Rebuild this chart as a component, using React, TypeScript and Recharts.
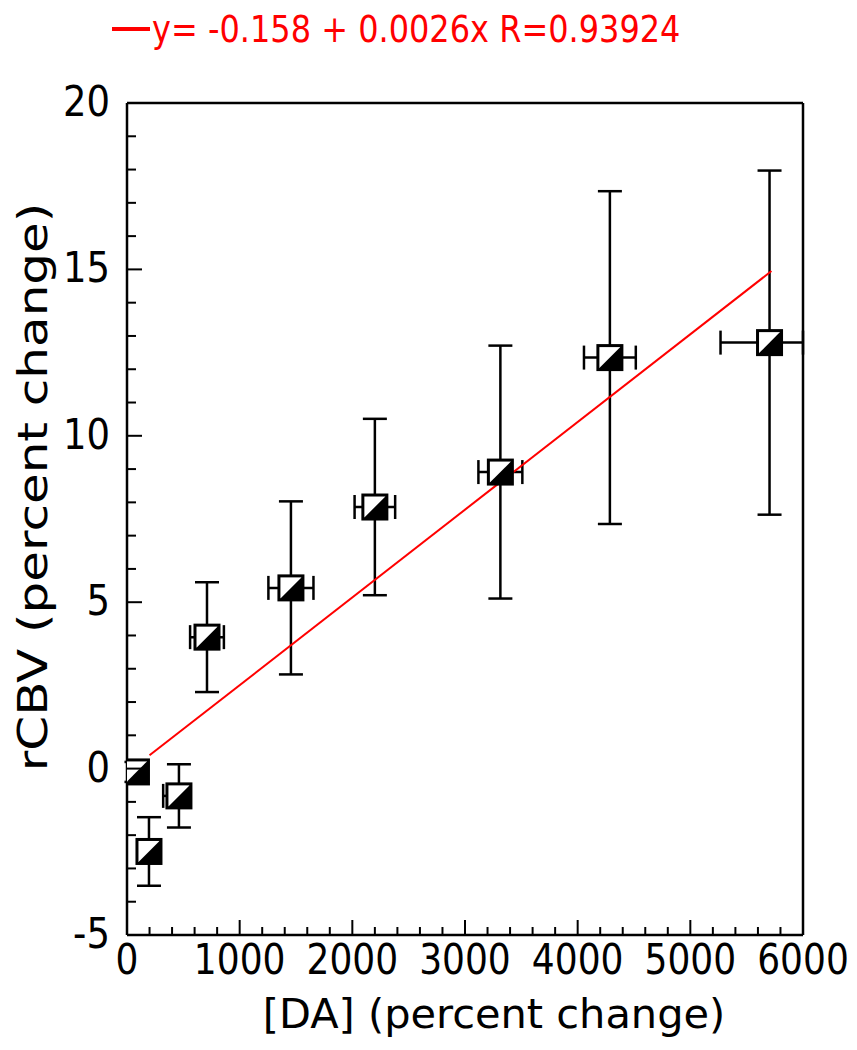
import React from "react";
import {
  ScatterChart,
  Scatter,
  XAxis,
  YAxis,
  ErrorBar,
  ReferenceLine,
} from "recharts";

// ---- data ----
const daChange = [84, 195, 461, 710, 1455, 2200, 3314, 4286, 5703];
const rcbvChange = [-0.1, -2.49, -0.82, 3.95, 5.43, 7.86, 8.91, 12.35, 12.8];
const rcbvErr = [0.3, 1.03, 0.95, 1.65, 2.6, 2.65, 3.8, 5.0, 5.17];
const daErrLow = [40, 80, 140, 150, 200, 180, 195, 230, 435];
const daErrHigh = [40, 80, 95, 150, 200, 180, 195, 230, 297];

const fitX = [200, 5720];
const fitY = [0.40, 14.95];

const xTickValues = [
  0, 200, 400, 600, 800, 1000, 1200, 1400, 1600, 1800, 2000, 2200, 2400, 2600,
  2800, 3000, 3200, 3400, 3600, 3800, 4000, 4200, 4400, 4600, 4800, 5000, 5200,
  5400, 5600, 5800, 6000,
];
const xMajorTicks = [0, 1000, 2000, 3000, 4000, 5000, 6000];
const yTickValues = [
  -5, -4, -3, -2, -1, 0, 1, 2, 3, 4, 5, 6, 7, 8, 9, 10, 11, 12, 13, 14, 15, 16,
  17, 18, 19, 20,
];
const yMajorTicks = [-5, 0, 5, 10, 15, 20];

const legendText = "y= -0.158 + 0.0026x R=0.93924";
const xLabel = "[DA] (percent change)";
const yLabel = "rCBV (percent change)";

const points = daChange.map((x, i) => ({
  x,
  y: rcbvChange[i],
  ey: rcbvErr[i],
  ex: [daErrLow[i], daErrHigh[i]],
}));
const fitData = fitX.map((x, i) => ({ x, y: fitY[i] }));

const FONT = "DejaVu Sans, Verdana, sans-serif";

const XTick = (props: any) => {
  const { x, y, payload } = props;
  const v = payload.value;
  const major = xMajorTicks.includes(v);
  return (
    <g>
      <line
        x1={x}
        x2={x}
        y1={y}
        y2={y - (major ? 15 : 8)}
        stroke="#000"
        strokeWidth={2}
      />
      {major && (
        <text
          x={x}
          y={y + 39}
          textAnchor="middle"
          fontSize={36}
          fontFamily={FONT}
          fill="#000"
          transform={`translate(0 ${-(y + 39) * 0.16}) scale(1 1.16)`}
        >
          {v}
        </text>
      )}
    </g>
  );
};

const YTick = (props: any) => {
  const { x, y, payload } = props;
  const v = payload.value;
  const major = yMajorTicks.includes(v);
  return (
    <g>
      <line
        x1={x}
        x2={x + (major ? 15 : 9)}
        y1={y}
        y2={y}
        stroke="#000"
        strokeWidth={2}
      />
      {major && (
        <text
          x={x - 17}
          y={y + 13}
          textAnchor="end"
          fontSize={37}
          fontFamily={FONT}
          fill="#000"
          transform={`translate(0 ${-(y + 13) * 0.15}) scale(1 1.15)`}
        >
          {v}
        </text>
      )}
    </g>
  );
};

const Marker = (props: any) => {
  const { cx, cy } = props;
  if (cx == null || cy == null) return null;
  const h = 12;
  return (
    <g>
      <rect
        x={cx - h}
        y={cy - h}
        width={2 * h}
        height={2 * h}
        fill="#fff"
        stroke="#000"
        strokeWidth={3}
      />
      <polygon
        points={`${cx - h},${cy + h} ${cx + h},${cy - h} ${cx + h},${cy + h}`}
        fill="#000"
      />
    </g>
  );
};

const XLabel = (props: any) => {
  const vb = props.viewBox || { x: 127, y: 935, width: 676, height: 60 };
  const cx = vb.x + vb.width / 2 + 29;
  return (
    <text
      x={cx}
      y={1028}
      textAnchor="middle"
      fontSize={41.5}
      fontFamily={FONT}
      fill="#000"
    >
      {xLabel}
    </text>
  );
};

const YLabel = () => {
  return (
    <text
      transform="translate(47 487) scale(1 1.25) rotate(-90)"
      x={0}
      y={0}
      textAnchor="middle"
      fontSize={40}
      fontFamily={FONT}
      fill="#000"
    >
      {yLabel}
    </text>
  );
};

export default function App() {
  return (
    <div
      style={{
        position: "absolute",
        left: 0,
        top: 0,
        width: 857,
        height: 1050,
        background: "#fff",
      }}
    >
      <svg
        width={857}
        height={70}
        style={{ position: "absolute", left: 0, top: 0 }}
      >
        <line x1={112} x2={150} y1={29} y2={29} stroke="#ff0000" strokeWidth={4} />
        <text
          x={152}
          y={42}
          fontSize={32}
          fontFamily={FONT}
          fill="#ff0000"
          transform="translate(0 -6.3) scale(1 1.15)"
        >
          {legendText}
        </text>
      </svg>
      <ScatterChart
        width={857}
        height={1050}
        margin={{ top: 103, right: 54, bottom: 55, left: 47 }}
      >
        <XAxis
          type="number"
          dataKey="x"
          domain={[0, 6000]}
          ticks={xTickValues}
          interval={0}
          allowDataOverflow
          tickSize={0}
          tickMargin={0}
          tick={<XTick />}
          height={60}
          axisLine={{ stroke: "#000", strokeWidth: 2.5 }}
          tickLine={false}
          label={<XLabel />}
        />
        <YAxis
          type="number"
          dataKey="y"
          domain={[-5, 20]}
          ticks={yTickValues}
          interval={0}
          allowDataOverflow
          tickSize={0}
          tickMargin={0}
          tick={<YTick />}
          width={80}
          axisLine={{ stroke: "#000", strokeWidth: 2.5 }}
          tickLine={false}
          label={<YLabel />}
        />
        <ReferenceLine y={20} stroke="#000" strokeWidth={2.5} />
        <Scatter
          data={fitData}
          line={{ stroke: "#ff0000", strokeWidth: 2 }}
          shape={() => null}
          isAnimationActive={false}
        />
        <Scatter data={points} shape={<Marker />} isAnimationActive={false}>
          <ErrorBar
            dataKey="ey"
            direction="y"
            width={12}
            stroke="#000"
            strokeWidth={2.5}
            isAnimationActive={false}
          />
          <ErrorBar
            dataKey="ex"
            direction="x"
            width={12}
            stroke="#000"
            strokeWidth={2.5}
            isAnimationActive={false}
          />
        </Scatter>
        <ReferenceLine x={6000} stroke="#000" strokeWidth={2.5} />
      </ScatterChart>
    </div>
  );
}
